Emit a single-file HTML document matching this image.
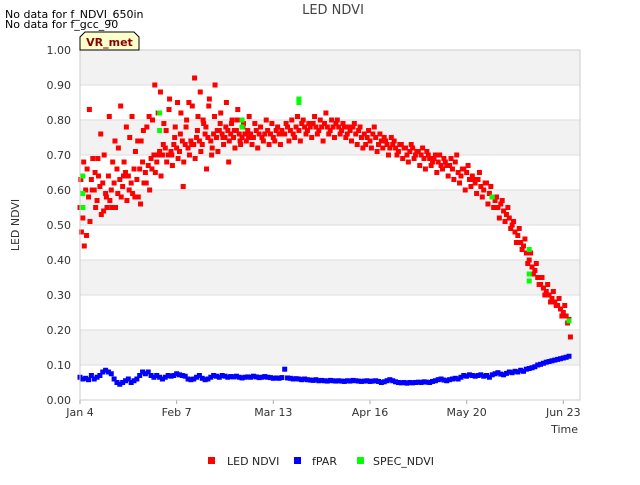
<!DOCTYPE html>
<html><head><meta charset="utf-8"><style>
body{margin:0;background:#fff;font-family:"Liberation Sans",sans-serif;}
svg text{font-family:"DejaVu Sans","Liberation Sans",sans-serif;}
</style></head><body>
<svg id="chart" width="640" height="480" viewBox="0 0 640 480" xmlns="http://www.w3.org/2000/svg">
<rect width="640" height="480" fill="#fff"/>
<text x="333" y="14" font-size="13" fill="#444" text-anchor="middle">LED NDVI</text>
<text x="5" y="18" font-size="11" fill="#000">No data for f_NDVI_650in</text>
<text x="5" y="28" font-size="11" fill="#000">No data for f_gcc_90</text>
<g id="bands"></g>
<g id="yticks"></g>
<g id="xticks"></g>
<g id="marks"></g>
<rect x="80" y="50" width="500" height="350" fill="none" stroke="#ccc"/>
<g>
<path d="M80,50 L80,37 L85,32 L134,32 L139,37 L139,50 Z" fill="#ffffcc" stroke="#000" stroke-width="1"/>
<text x="109.5" y="46" font-size="11" font-weight="bold" fill="#8b0000" text-anchor="middle">VR_met</text>
</g>
<text x="19" y="225" font-size="11" fill="#333" text-anchor="middle" transform="rotate(-90 19 225)">LED NDVI</text>
<text x="578" y="433" font-size="11" fill="#333" text-anchor="end">Time</text>
<g>
<rect x="208" y="457" width="7" height="7" fill="#f00"/>
<text x="227" y="465" font-size="11" fill="#222">LED NDVI</text>
<rect x="294" y="457" width="7" height="7" fill="#00f"/>
<text x="312" y="465" font-size="11" fill="#222">fPAR</text>
<rect x="357" y="457" width="7" height="7" fill="#0f0"/>
<text x="373" y="465" font-size="11" fill="#222">SPEC_NDVI</text>
</g>
</svg>
<script>
const yTicks=[0,0.1,0.2,0.3,0.4,0.5,0.6,0.7,0.8,0.9,1.0];
const xTickLabels=["Jan 4","Feb 7","Mar 13","Apr 16","May 20","Jun 23"];
const xTickDays=[0,34,68,102,136,170];
const redA=[.55,.52,.60,.58,.63,.60,.57,.61,.62,.59,
.64,.60,.62,.66,.63,.61,.65,.64,.62,.66,
.63,.66,.68,.65,.67,.69,.70,.68,.71,.70,
.72,.70,.71,.73,.72,.71,.74,.73,.72,.74,
.73,.75,.74,.73,.76,.75,.74,.76,.75,.77,
.76,.75,.77,.76,.75,.77,.76,.75,.76,.77,
.76,.75,.77,.76,.75,.76,.77,.76,.75,.77,
.76,.77,.76,.78,.77,.76,.78,.77,.79,.78,
.77,.78,.79,.78,.77,.78,.79,.78,.77,.78,
.79,.78,.77,.78,.76,.77,.78,.76,.77,.75,
.76,.75,.74,.76,.75,.73,.74,.75,.73,.72,
.73,.72,.71,.73,.72,.70,.71,.72,.70,.71,
.70,.69,.71,.69,.68,.70,.68,.67,.69,.67,
.67,.66,.68,.65,.64,.66,.65,.63,.64,.62,
.63,.61,.60,.62,.59,.58,.57,.55,.56,.54,
.53,.52,.50,.48,.47,.45,.44,.42,.40,.38,
.37,.35,.33,.32,.31,.30,.29,.28,.27,.26,
.25,.24,.23];
const redB=[.48,.44,.66,.51,.69,.55,.64,.53,.70,.55,
.57,.68,.55,.72,.58,.68,.57,.75,.59,.71,
.58,.74,.62,.78,.60,.80,.65,.82,.64,.79,
.68,.86,.67,.78,.69,.82,.68,.80,.70,.84,
.69,.81,.71,.79,.66,.86,.72,.90,.71,.82,
.73,.85,.74,.80,.72,.83,.73,.79,.74,.81,
.73,.79,.72,.78,.74,.80,.73,.79,.74,.78,
.73,.76,.79,.74,.80,.75,.81,.74,.80,.76,
.79,.75,.81,.76,.80,.74,.82,.76,.80,.75,
.80,.76,.79,.75,.78,.74,.79,.73,.78,.72,
.73,.77,.72,.78,.71,.76,.72,.74,.70,.75,
.74,.70,.73,.69,.72,.68,.73,.69,.71,.67,
.72,.66,.70,.67,.69,.65,.70,.66,.68,.64,
.69,.63,.70,.62,.66,.60,.67,.61,.63,.59,
.65,.58,.62,.56,.61,.55,.58,.52,.57,.51,
.55,.49,.51,.45,.49,.43,.46,.39,.42,.36,
.39,.33,.35,.30,.33,.28,.31,.27,.29,.24,
.27,.22,.18];
const redC=[.63,.68,.47,.83,.60,.65,.69,.76,.54,.58,
.81,.55,.74,.59,.84,.64,.78,.60,.81,.58,
.74,.56,.77,.62,.81,.66,.90,.70,.88,.73,
.77,.83,.70,.75,.85,.76,.61,.78,.85,.73,
.92,.77,.88,.80,.78,.84,.70,.81,.77,.79,
.75,.78,.68,.79,.77,.80,.74,.78,.76,.75];
const fpar=[.065,.06,.062,.058,.07,.06,.065,.07,.08,.085,
.08,.075,.06,.05,.045,.05,.055,.06,.05,.055,
.06,.07,.08,.075,.08,.07,.065,.07,.065,.06,
.065,.07,.068,.07,.075,.072,.07,.068,.06,.058,
.06,.065,.07,.062,.058,.06,.065,.07,.068,.065,
.07,.068,.065,.067,.066,.068,.065,.063,.065,.066,
.065,.068,.066,.064,.065,.067,.065,.064,.062,.063,
.062,.064,.088,.063,.062,.06,.061,.06,.058,.06,
.058,.057,.056,.058,.055,.056,.055,.054,.056,.055,
.054,.055,.054,.053,.055,.054,.056,.055,.054,.053,
.054,.055,.053,.054,.055,.053,.05,.052,.055,.058,
.055,.052,.05,.049,.05,.048,.05,.049,.05,.051,
.05,.052,.051,.05,.053,.055,.058,.06,.057,.055,
.058,.06,.062,.06,.065,.07,.068,.072,.07,.068,
.07,.072,.068,.07,.065,.072,.075,.078,.074,.072,
.076,.08,.078,.082,.08,.085,.082,.088,.09,.092,
.095,.1,.102,.105,.108,.11,.112,.114,.116,.118,
.12,.122,.125];
const specDays=[1,1,1,28,28,57,57,77,77,145,158,158,158,172];
const specVals=[.64,.59,.55,.82,.77,.80,.78,.86,.85,.58,.43,.36,.34,.226];

const X0=80,X1=580,Y0=400,Y1=50,DAY_PX=2.843;
const xs=d=>X0+d*DAY_PX;
const ys=v=>Y0-(v-0)/(1.0-0)*(Y0-Y1);
const NS="http://www.w3.org/2000/svg";
function mk(tag,attrs,parent){const e=document.createElementNS(NS,tag);for(const k in attrs)e.setAttribute(k,attrs[k]);parent.appendChild(e);return e;}
const bands=document.getElementById('bands'),yt=document.getElementById('yticks'),xt=document.getElementById('xticks'),marks=document.getElementById('marks');
for(let i=0;i<yTicks.length-1;i++){
 if(i%2===1){const r=mk('rect',{x:X0,y:ys(yTicks[i+1]),width:X1-X0,height:ys(yTicks[i])-ys(yTicks[i+1]),fill:'#f2f2f2'},bands);
 
 }
}
yTicks.forEach(v=>{
 const l=mk('line',{x1:X0,x2:X1,y1:ys(v),y2:ys(v),stroke:'#ddd'},yt);
 
 
 const t=mk('text',{x:X0-9,y:ys(v)+4,'font-size':11,fill:'#333','text-anchor':'end'},yt);
 t.textContent=v.toFixed(2);
 
 
});
xTickDays.forEach((d,i)=>{
 const l=mk('line',{x1:xs(d),x2:xs(d),y1:Y0,y2:Y0+4,stroke:'#aaa'},xt);
 
 
 const t=mk('text',{x:xs(d),y:Y0+16,'font-size':11,fill:'#333','text-anchor':'middle'},xt);
 t.textContent=xTickLabels[i];
 
 
});
function pt(d,v,color,name){
 const r=mk('rect',{x:xs(d)-2.5,y:ys(v)-2.5,width:5,height:5,fill:color},marks);
 
 
}
fpar.forEach((v,d)=>pt(d,v,'#00f','fpar-point'));
redA.forEach((v,d)=>pt(d,v,'#f00','led-ndvi-point'));
redB.forEach((v,d)=>pt(d+0.5,v,'#f00','led-ndvi-point'));
redC.forEach((v,d)=>pt(d+0.3,v,'#f00','led-ndvi-point'));
specVals.forEach((v,i)=>pt(specDays[i],v,'#0f0','spec-ndvi-point'));
</script>
</body></html>
